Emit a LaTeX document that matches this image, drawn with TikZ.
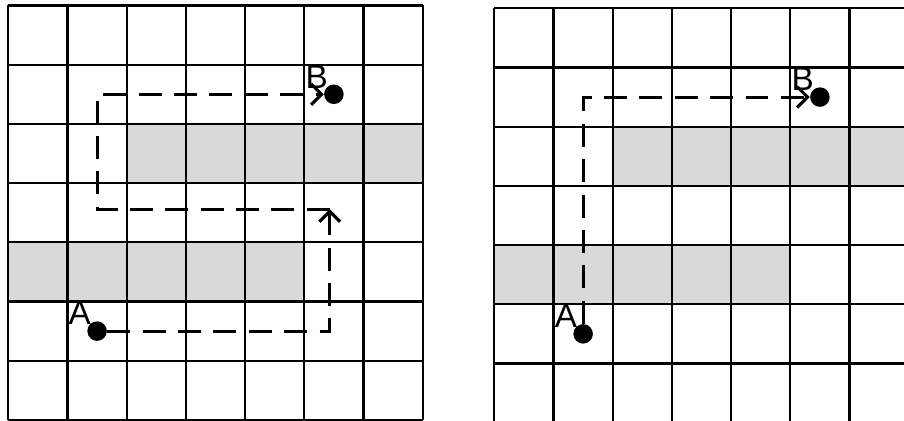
\documentclass[tikz,border=0pt]{standalone}
\usepackage{fontspec}
\setmainfont{Liberation Sans}
\usetikzlibrary{arrows.meta}
\definecolor{blocked}{gray}{0.85}
\tikzset{
  cellgrid/.style={black, line width=1.1pt},
  wall/.style={fill=blocked},
  spot/.style={circle, fill=black, inner sep=0pt, minimum size=0.33cm},
  tag/.style={inner sep=0pt, label distance=-1pt, font=\fontsize{16}{18}\selectfont},
  route/.style={line width=1.5pt, dash pattern=on 11pt off 6pt},
  routehead/.style={-{Straight Barb[width=10pt,length=5pt]}}
}

\begin{document}
\begin{tikzpicture}[x=1cm,y=1cm]
\useasboundingbox (0,0) rectangle (15.27,7.11);
\clip (0,0) rectangle (15.27,7.11);
% left: detour round the walls
\begin{scope}[shift={(0.14,0.017)}]
\fill[wall] (2,4) rectangle (7,5);
\fill[wall] (0,2) rectangle (5,3);
\draw[cellgrid] (0,0) grid (7,7);
\node[spot, label={[tag]135:A}] (A1) at (1.5,1.5) {};
\node[spot, label={[tag]135:B}] (B1) at (5.5,5.5) {};
\coordinate (T1) at (5.43,3.56);
\draw[route, routehead] (A1) -| (T1);
\draw[route, routehead] (T1) -- (T1 -| A1) |- (B1);
\end{scope}
% right: straight through
\begin{scope}[shift={(8.35,-0.03)}]
\fill[wall] (2,4) rectangle (7,5);
\fill[wall] (0,2) rectangle (5,3);
\draw[cellgrid] (0,0) grid (7,7);
\node[spot, label={[tag]135:A}] (A2) at (1.5,1.5) {};
\node[spot, label={[tag]135:B}] (B2) at (5.5,5.5) {};
\draw[route, routehead] (A2) |- (B2);
\end{scope}
\end{tikzpicture}
\end{document}
